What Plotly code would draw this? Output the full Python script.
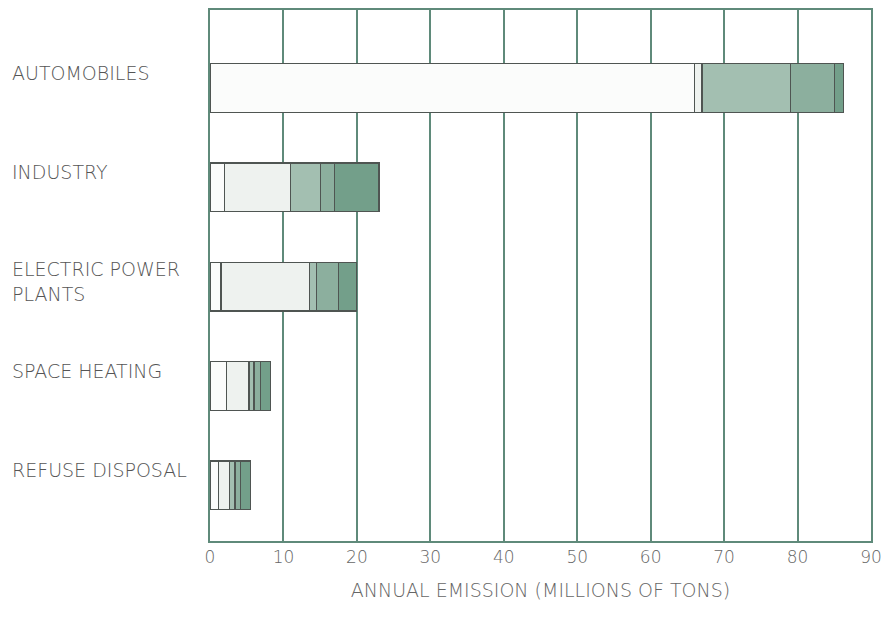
import plotly.graph_objects as go

categories = ["AUTOMOBILES", "INDUSTRY", "ELECTRIC POWER PLANTS", "SPACE HEATING", "REFUSE DISPOSAL"]
label_text = ["AUTOMOBILES", "INDUSTRY", "ELECTRIC POWER<br>PLANTS", "SPACE HEATING", "REFUSE DISPOSAL"]

carbon_monoxide = [66, 2, 1.5, 2.3, 1.2]
sulfur_oxides = [1, 9, 12, 3, 1.4]
hydrocarbons = [12, 4, 1, 0.7, 0.8]
nitrogen_oxides = [6, 2, 3, 0.9, 0.8]
particulates = [1.3, 6, 2.5, 1.3, 1.3]

x_ticks = [0, 10, 20, 30, 40, 50, 60, 70, 80, 90]

series = [
    ("CARBON MONOXIDE", carbon_monoxide, "#fbfcfb"),
    ("SULFUR OXIDES", sulfur_oxides, "#eef2ef"),
    ("HYDROCARBONS", hydrocarbons, "#a3bfb1"),
    ("NITROGEN OXIDES", nitrogen_oxides, "#8caf9e"),
    ("PARTICULATES", particulates, "#739f8a"),
]

fig = go.Figure()
for name, vals, col in series:
    fig.add_trace(go.Bar(
        y=categories, x=vals, name=name, orientation="h",
        marker=dict(color=col, line=dict(color="#4f5552", width=1.2)),
        width=0.49, showlegend=False,
    ))

grid_col = "#5f8a7a"
font_fam = "'DejaVu Sans', sans-serif"
W, L, R = 875, 202, 12
plot_w = W - L - R
fig.update_layout(
    barmode="stack",
    width=W, height=605,
    margin=dict(l=L, r=R, t=2, b=72),
    paper_bgcolor="white", plot_bgcolor="white",
    font=dict(family=font_fam, color="#555", weight=300),
    xaxis=dict(
        range=[0, 90], tickvals=x_ticks, ticktext=[str(t) for t in x_ticks],
        showgrid=True, gridcolor=grid_col, gridwidth=1.5,
        showline=True, linecolor=grid_col, linewidth=1.5, mirror=True,
        zeroline=False, ticks="", ticklabeloverflow="allow", automargin=False,
        tickfont=dict(size=17, color="#666", weight=300),
        title=dict(text="ANNUAL EMISSION (MILLIONS OF TONS)", font=dict(size=19, color="#666", weight=300), standoff=18),
    ),
    yaxis=dict(
        type="category", categoryorder="array", categoryarray=categories,
        range=[4.56, -0.785], showticklabels=False, showgrid=False,
        showline=True, linecolor=grid_col, linewidth=1.5, mirror=True, zeroline=False, ticks="",
    ),
)

for cat, lab in zip(categories, label_text):
    fig.add_annotation(
        x=-200 / plot_w, xref="paper", y=cat, yref="y",
        text=lab, showarrow=False, xanchor="left", yanchor="middle", align="left",
        yshift=5 if "<br>" in lab else 15,
        font=dict(size=19, color="#555", family=font_fam, weight=300),
    )

fig.write_html("out.html")
